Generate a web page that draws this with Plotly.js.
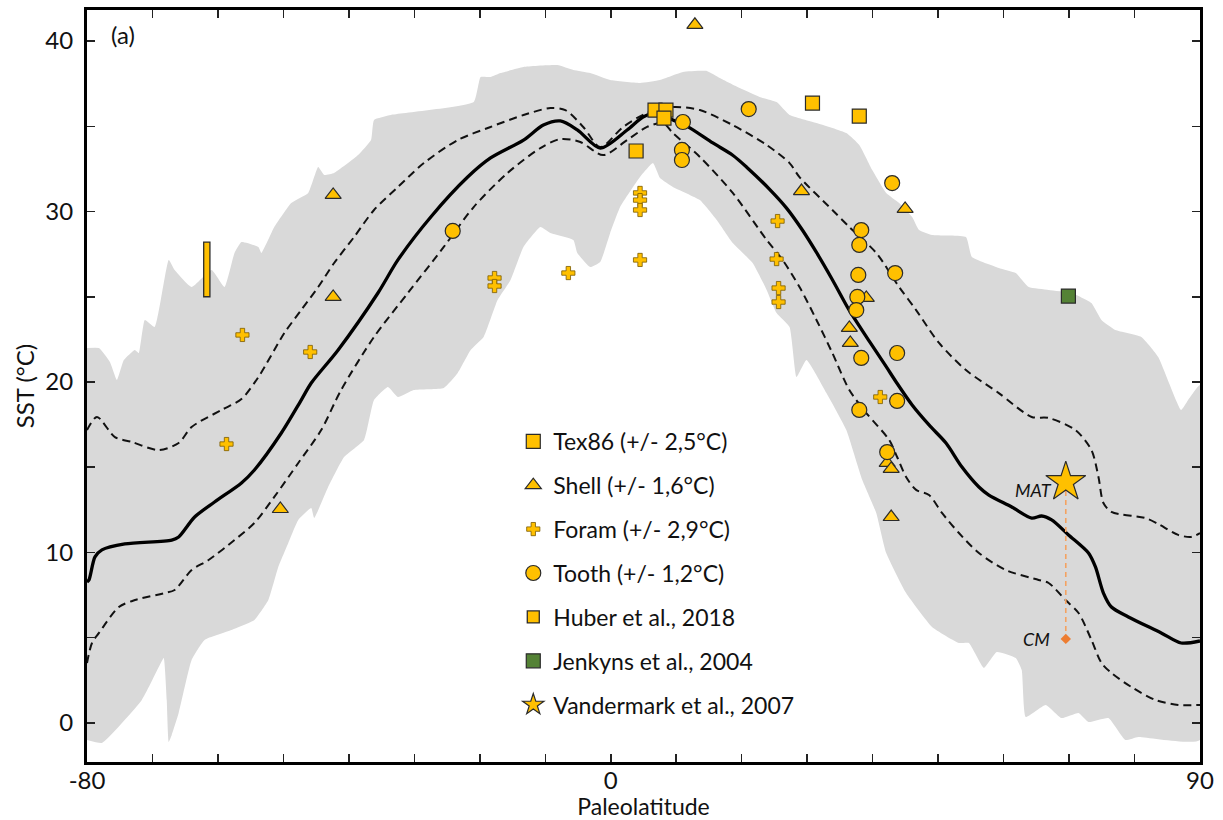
<!DOCTYPE html>
<html>
<head>
<meta charset="utf-8">
<script src="https://cdn.plot.ly/plotly-3.0.1.min.js"></script>
<style>
  html, body { margin: 0; padding: 0; background: #ffffff; }
  #chart { width: 1223px; height: 820px; }
</style>
</head>
<body>
<div id="chart"></div>
<script>
// ---------- Data ----------
// Grey envelope (model range)
const bandUpperLat = [-80, -78.17, -76.5, -75.43, -74.37, -72.69, -72.09, -71.17, -69.65, -67.52, -66.61, -64.02, -60.97, -58.99, -57.47, -56.41, -53.82, -53.36, -51.39, -48.8, -46.21, -44.69, -43.77, -42.25, -38.6, -36.62, -36.16, -33.58, -20.94, -19.88, -18.36, -16.83, -13.33, -8.16, -5.72, -3.14, -0.09, 4.47, 7.52, 11.02, 14.67, 16.65, 19.7, 22.74, 25.33, 27.31, 31.42, 35.98, 37.96, 39.94, 42.07, 44.05, 46.03, 47.09, 49.07, 54.25, 55.16, 59.27, 61.86, 63.84, 66.88, 70.38, 73.42, 74.95, 77.08, 81.04, 83.62, 87.12, 88.19, 90];
const bandUpperSST = [21.99, 21.99, 21.17, 20.12, 21.29, 21.88, 21.7, 23.64, 23.23, 27.16, 26.57, 25.57, 26.57, 25.57, 27.57, 28.21, 27.92, 27.57, 29.09, 30.5, 31.09, 32.61, 32.14, 32.26, 33.31, 34.19, 35.37, 35.66, 36.42, 37.89, 37.89, 38.12, 38.48, 38.59, 38.3, 38.12, 37.71, 37.54, 37.71, 38.18, 38.24, 37.83, 37.24, 36.72, 36.42, 35.66, 35.19, 34.6, 33.9, 32.43, 31.09, 30.5, 29.68, 28.91, 28.62, 28.5, 27.33, 26.69, 26.39, 25.57, 25.4, 25.22, 24.63, 23.64, 23.05, 22.64, 21.47, 18.36, 18.94, 19.82];
const bandLowerLat = [-80, -77.72, -71.63, -69.04, -68.28, -67.82, -67.52, -67.06, -66.0, -64.02, -62.04, -57.93, -54.43, -52.3, -50.78, -49.25, -47.73, -45.75, -45.3, -43.17, -40.73, -37.69, -36.16, -34.03, -32.51, -30.08, -25.51, -23.38, -21.4, -19.42, -17.29, -15.31, -13.33, -10.75, -9.22, -5.72, -5.11, -3.14, -1.61, -0.09, 1.43, 4.47, 6.45, 7.52, 9.5, 13.61, 16.19, 18.63, 21.67, 23.81, 25.33, 27.31, 28.37, 29.89, 32.94, 35.98, 38.42, 40.55, 42.07, 45.11, 49.07, 53.18, 54.7, 56.99, 58.96, 61.86, 62.77, 63.38, 66.42, 68.86, 71.45, 72.97, 76.01, 78.6, 80.58, 90];
const bandLowerSST = [-1.0, -1.17, 1.35, 3.28, 3.81, 1.35, -1.11, -0.7, 0.59, 3.7, 4.87, 5.45, 6.04, 7.21, 9.15, 10.56, 11.91, 12.61, 12.02, 13.84, 15.6, 16.6, 18.94, 19.71, 19.12, 19.53, 19.65, 20.53, 21.88, 22.64, 24.81, 25.98, 27.92, 29.09, 28.74, 28.33, 27.57, 26.74, 27.04, 28.74, 30.26, 32.02, 32.84, 31.96, 31.44, 30.67, 29.5, 28.15, 26.98, 25.4, 24.05, 23.23, 20.29, 21.29, 19.35, 17.18, 14.25, 12.32, 9.97, 7.62, 5.63, 4.69, 4.69, 3.23, 4.16, 3.81, 3.11, 0.35, 1.06, 0.29, 0.59, 0.06, 0.29, -1.0, -0.82, -1.0];

// Mean model SST (solid) and +/- envelope (dashed)
const meanLat = [-80, -79.7, -78.78, -77.72, -74.22, -67.06, -66.0, -63.56, -60.52, -56.41, -54.43, -50.32, -47.28, -45.75, -41.64, -35.56, -32.51, -27.49, -21.86, -18.36, -13.33, -10.29, -7.7, -5.11, -1.61, 2.5, 4.93, 7.06, 9.5, 11.63, 15.59, 18.63, 20.76, 24.26, 26.85, 29.29, 31.42, 33.85, 36.44, 39.48, 42.07, 43.59, 46.03, 48.61, 51.2, 53.64, 56.23, 57.75, 61.25, 64.29, 65.81, 67.34, 69.92, 72.97, 74.03, 75.25, 76.47, 79.06, 84.08, 87.12, 90];
const meanSST = [8.27, 8.39, 9.74, 10.15, 10.5, 10.73, 10.91, 12.08, 12.96, 14.08, 14.84, 17.01, 18.94, 19.94, 21.88, 25.22, 27.16, 29.68, 32.02, 33.14, 34.19, 35.07, 35.31, 34.79, 33.72, 34.78, 35.54, 35.78, 35.37, 35.01, 34.02, 33.3, 32.6, 31.3, 30.2, 28.9, 27.6, 26.0, 24.2, 22.4, 20.9, 20.0, 18.65, 17.48, 16.42, 15.01, 13.84, 13.37, 12.67, 12.02, 12.14, 11.91, 11.03, 9.97, 9.15, 7.62, 6.8, 6.22, 5.28, 4.69, 4.81];

const upperLat = [-80, -78.48, -75.74, -73.15, -69.04, -66.0, -64.02, -59.45, -56.41, -53.82, -49.86, -47.28, -44.69, -42.25, -39.21, -36.16, -32.51, -28.55, -23.38, -18.36, -13.33, -9.22, -6.94, -4.2, -1.61, 1.89, 5.54, 9.5, 13.61, 18.63, 23.81, 27.31, 28.83, 33.85, 36.44, 40.55, 44.05, 46.64, 50.14, 54.25, 59.27, 64.29, 66.88, 70.99, 73.42, 74.49, 75.25, 76.47, 81.64, 83.62, 86.67, 88.64, 90];
const upperSST = [17.18, 17.95, 16.77, 16.48, 16.01, 16.42, 17.36, 18.36, 19.0, 20.29, 22.87, 24.22, 25.57, 26.98, 28.5, 30.09, 31.44, 32.84, 34.19, 34.96, 35.66, 36.07, 35.95, 34.96, 33.78, 34.96, 35.78, 36.13, 35.95, 35.07, 33.9, 32.84, 32.02, 30.09, 29.09, 27.57, 25.57, 24.22, 22.29, 20.7, 19.35, 17.95, 17.89, 17.18, 16.01, 14.43, 12.9, 12.38, 12.02, 11.67, 11.03, 10.91, 11.14];

const lowerLat = [-80, -79.24, -78.17, -75.13, -72.69, -68.13, -66.61, -64.02, -61.43, -57.47, -54.43, -51.39, -47.73, -44.23, -41.19, -36.16, -30.99, -25.51, -20.94, -15.77, -10.75, -7.7, -4.66, -1.16, 2.5, 5.54, 7.98, 9.5, 13.61, 18.63, 23.81, 26.24, 28.83, 31.42, 33.85, 36.44, 39.03, 42.53, 43.74, 45.11, 46.64, 48.61, 50.59, 53.18, 56.23, 60.33, 65.36, 66.88, 69.47, 71.45, 73.42, 74.95, 76.47, 79.51, 83.17, 86.67, 90];
const lowerSST = [3.52, 4.69, 5.28, 6.8, 7.21, 7.62, 7.8, 8.97, 9.56, 10.73, 11.73, 13.26, 15.25, 17.18, 19.53, 22.64, 25.22, 27.92, 30.26, 32.26, 33.72, 34.25, 34.08, 33.31, 34.19, 34.96, 35.19, 34.6, 33.2, 31.09, 28.33, 27.16, 25.57, 23.64, 21.7, 19.53, 18.18, 16.6, 15.6, 14.43, 13.67, 13.37, 12.32, 11.14, 9.97, 8.97, 8.39, 8.21, 7.21, 6.45, 4.87, 3.52, 2.93, 2.11, 1.35, 1.06, 1.06];

// Proxy data
const tex86Lat = [3.87, 6.76, 8.43, 8.13, 30.81, 37.96];
const tex86SST = [33.55, 35.95, 35.95, 35.48, 36.36, 35.6];

const shellLat = [12.85, -42.4, -42.4, -50.47, 29.13, 44.96, 39.03, 36.44, 36.59, 42.22, 42.83, 42.83];
const shellSST = [40.95, 30.97, 24.99, 12.55, 31.2, 30.15, 24.93, 23.17, 22.29, 15.25, 14.9, 12.08];

const foramLat = [-56.26, -58.69, -45.91, -17.75, -17.75, -6.48, 4.47, 4.47, 4.47, 4.47, 25.48, 25.33, 25.63, 25.63, 41.16];
const foramSST = [22.76, 16.36, 21.76, 26.1, 25.63, 26.39, 31.09, 30.67, 30.09, 27.16, 29.44, 27.21, 25.51, 24.69, 19.12];

const toothLat = [-24.14, 11.02, 10.87, 10.87, 21.07, 42.98, 38.26, 37.96, 43.44, 37.81, 37.66, 37.5, 38.26, 43.74, 37.96, 43.74, 42.22];
const toothSST = [28.86, 35.25, 33.61, 33.02, 36.01, 31.67, 28.91, 28.04, 26.39, 26.28, 24.99, 24.22, 21.41, 21.7, 18.36, 18.89, 15.89];

const huberLat = [-61.7];
const huberMin = [25.0];
const huberMax = [28.2];

const jenkynsLat = [69.9];
const jenkynsSST = [25.04];

const vandermarkLat = [69.5];
const vandermarkMAT = [14.13];
const vandermarkCM = [4.93];

// Ticks
const xTickVals = [-80, -70, -60, -50, -40, -30, -20, -10, 0, 10, 20, 30, 40, 50, 60, 70, 80, 90];
const xTickText = ['-80', '', '', '', '', '', '', '', '0', '', '', '', '', '', '', '', '', '90'];
const yTickVals = [0, 5, 10, 15, 20, 25, 30, 35, 40];
const yTickText = ['0', '', '10', '', '20', '', '30', '', '40'];

const legendLabels = ['Tex86 (+/- 2,5°C)', 'Shell (+/- 1,6°C)', 'Foram (+/- 2,9°C)', 'Tooth (+/- 1,2°C)', 'Huber et al., 2018', 'Jenkyns et al., 2004', 'Vandermark et al., 2007'];

// ---------- Styles ----------
const GOLD = '#FFC000';
const EDGE = '#2b2b2b';
const BAND = '#d9d9d9';
const ORANGE = '#F4A261';
const ORANGE_DOT = '#ED7D31';
const X_RANGE = [-80, 90];
const Y_RANGE = [-2.29, 41.82];

// ---------- Traces ----------
const bandX = bandUpperLat.concat(bandLowerLat.slice().reverse());
const bandY = bandUpperSST.concat(bandLowerSST.slice().reverse());

const traces = [
  { x: bandX, y: bandY, type: 'scatter', mode: 'lines', fill: 'toself', fillcolor: BAND,
    line: { width: 0, color: BAND, shape: 'spline', smoothing: 0.4 }, hoverinfo: 'skip', showlegend: false },
  { x: upperLat, y: upperSST, type: 'scatter', mode: 'lines',
    line: { color: '#111', width: 2, dash: '8px,5px', shape: 'spline', smoothing: 0.8 }, showlegend: false },
  { x: lowerLat, y: lowerSST, type: 'scatter', mode: 'lines',
    line: { color: '#111', width: 2, dash: '8px,5px', shape: 'spline', smoothing: 0.8 }, showlegend: false },
  { x: meanLat, y: meanSST, type: 'scatter', mode: 'lines',
    line: { color: '#000', width: 3.3, shape: 'spline', smoothing: 0.8 }, showlegend: false },
  { x: tex86Lat, y: tex86SST, type: 'scatter', mode: 'markers', name: legendLabels[0], legendgroup: 'g1',
    marker: { symbol: 'square', size: 14, color: GOLD, line: { color: EDGE, width: 1.2 } } },
  { x: shellLat, y: shellSST, type: 'scatter', mode: 'markers', name: legendLabels[1], legendgroup: 'g2',
    marker: { symbol: 'triangle-up', size: 14, color: GOLD, line: { color: EDGE, width: 1.2 } } },
  { x: foramLat, y: foramSST, type: 'scatter', mode: 'markers', name: legendLabels[2], legendgroup: 'g3',
    marker: { symbol: 'cross', size: 11, color: GOLD, line: { color: '#7a5a00', width: 0.8 } } },
  { x: toothLat, y: toothSST, type: 'scatter', mode: 'markers', name: legendLabels[3], legendgroup: 'g4',
    marker: { symbol: 'circle', size: 15, color: GOLD, line: { color: EDGE, width: 1.2 } } },
  { x: huberLat, y: huberMax.map((v, i) => v - huberMin[i]), base: huberMin, type: 'bar', width: 0.95,
    xaxis: 'x2', yaxis: 'y2',
    name: legendLabels[4], legendgroup: 'g5',
    marker: { color: GOLD, line: { color: EDGE, width: 1.3 } } },
  { x: jenkynsLat, y: jenkynsSST, type: 'scatter', mode: 'markers', name: legendLabels[5], legendgroup: 'g6',
    marker: { symbol: 'square', size: 14, color: '#548235', line: { color: EDGE, width: 1.2 } } },
  { x: vandermarkLat.concat(vandermarkLat), y: vandermarkMAT.concat(vandermarkCM), type: 'scatter', mode: 'lines',
    line: { color: ORANGE, width: 1.6, dash: '5px,4px' }, showlegend: false },
  { x: vandermarkLat, y: vandermarkCM, type: 'scatter', mode: 'markers', showlegend: false,
    marker: { symbol: 'diamond', size: 8, color: ORANGE_DOT } },
  { x: vandermarkLat, y: vandermarkMAT, type: 'scatter', mode: 'markers', name: legendLabels[6], legendgroup: 'g7',
    marker: { symbol: 'star', size: 30, color: GOLD, line: { color: EDGE, width: 1.2 } } }
];

const axisCommon = {
  ticks: 'inside', ticklen: 8, tickwidth: 1.5, tickcolor: '#222',
  showline: true, linewidth: 3, linecolor: '#000', mirror: 'allticks',
  showgrid: false, zeroline: false,
  tickfont: { size: 24, color: '#111' }
};

const layout = {
  width: 1223, height: 820,
  margin: { l: 87, r: 23, t: 10, b: 58, pad: 0 },
  paper_bgcolor: '#ffffff', plot_bgcolor: '#ffffff',
  font: { family: 'Lato, "DejaVu Sans", sans-serif', color: '#111' },
  showlegend: true,
  barmode: 'overlay',
  legend: {
    x: 0.383, y: 0.455, xanchor: 'left', yanchor: 'top',
    bgcolor: 'rgba(0,0,0,0)', borderwidth: 0,
    font: { size: 23, color: '#111' }, tracegroupgap: 11, traceorder: 'grouped'
  },
  xaxis: Object.assign({}, axisCommon, {
    range: X_RANGE, tickmode: 'array', tickvals: xTickVals, ticktext: xTickText,
    ticklabelstandoff: -5,
    title: { text: 'Paleolatitude', font: { size: 23 }, standoff: 2 }
  }),
  yaxis: Object.assign({}, axisCommon, {
    range: Y_RANGE, tickmode: 'array', tickvals: yTickVals, ticktext: yTickText,
    ticklabelstandoff: 6,
    title: { text: 'SST (°C)', font: { size: 24 }, standoff: 4 }
  }),
  xaxis2: { overlaying: 'x', range: X_RANGE, visible: false, showgrid: false, zeroline: false },
  yaxis2: { overlaying: 'y', range: Y_RANGE, visible: false, showgrid: false, zeroline: false },
  annotations: [
    { xref: 'paper', yref: 'paper', x: 0.032, y: 0.968, text: '(a)', showarrow: false,
      xanchor: 'center', yanchor: 'middle', font: { size: 24, color: '#111' } },
    { x: vandermarkLat[0], y: vandermarkMAT[0], text: '<i>MAT</i>', showarrow: false,
      xanchor: 'right', yanchor: 'middle', xshift: -12, yshift: -8, font: { size: 18, color: '#111' } },
    { x: vandermarkLat[0], y: vandermarkCM[0], text: '<i>CM</i>', showarrow: false,
      xanchor: 'right', yanchor: 'middle', xshift: -14, font: { size: 18, color: '#111' } }
  ]
};

Plotly.newPlot('chart', traces, layout, { displayModeBar: false, staticPlot: true });
</script>
</body>
</html>
